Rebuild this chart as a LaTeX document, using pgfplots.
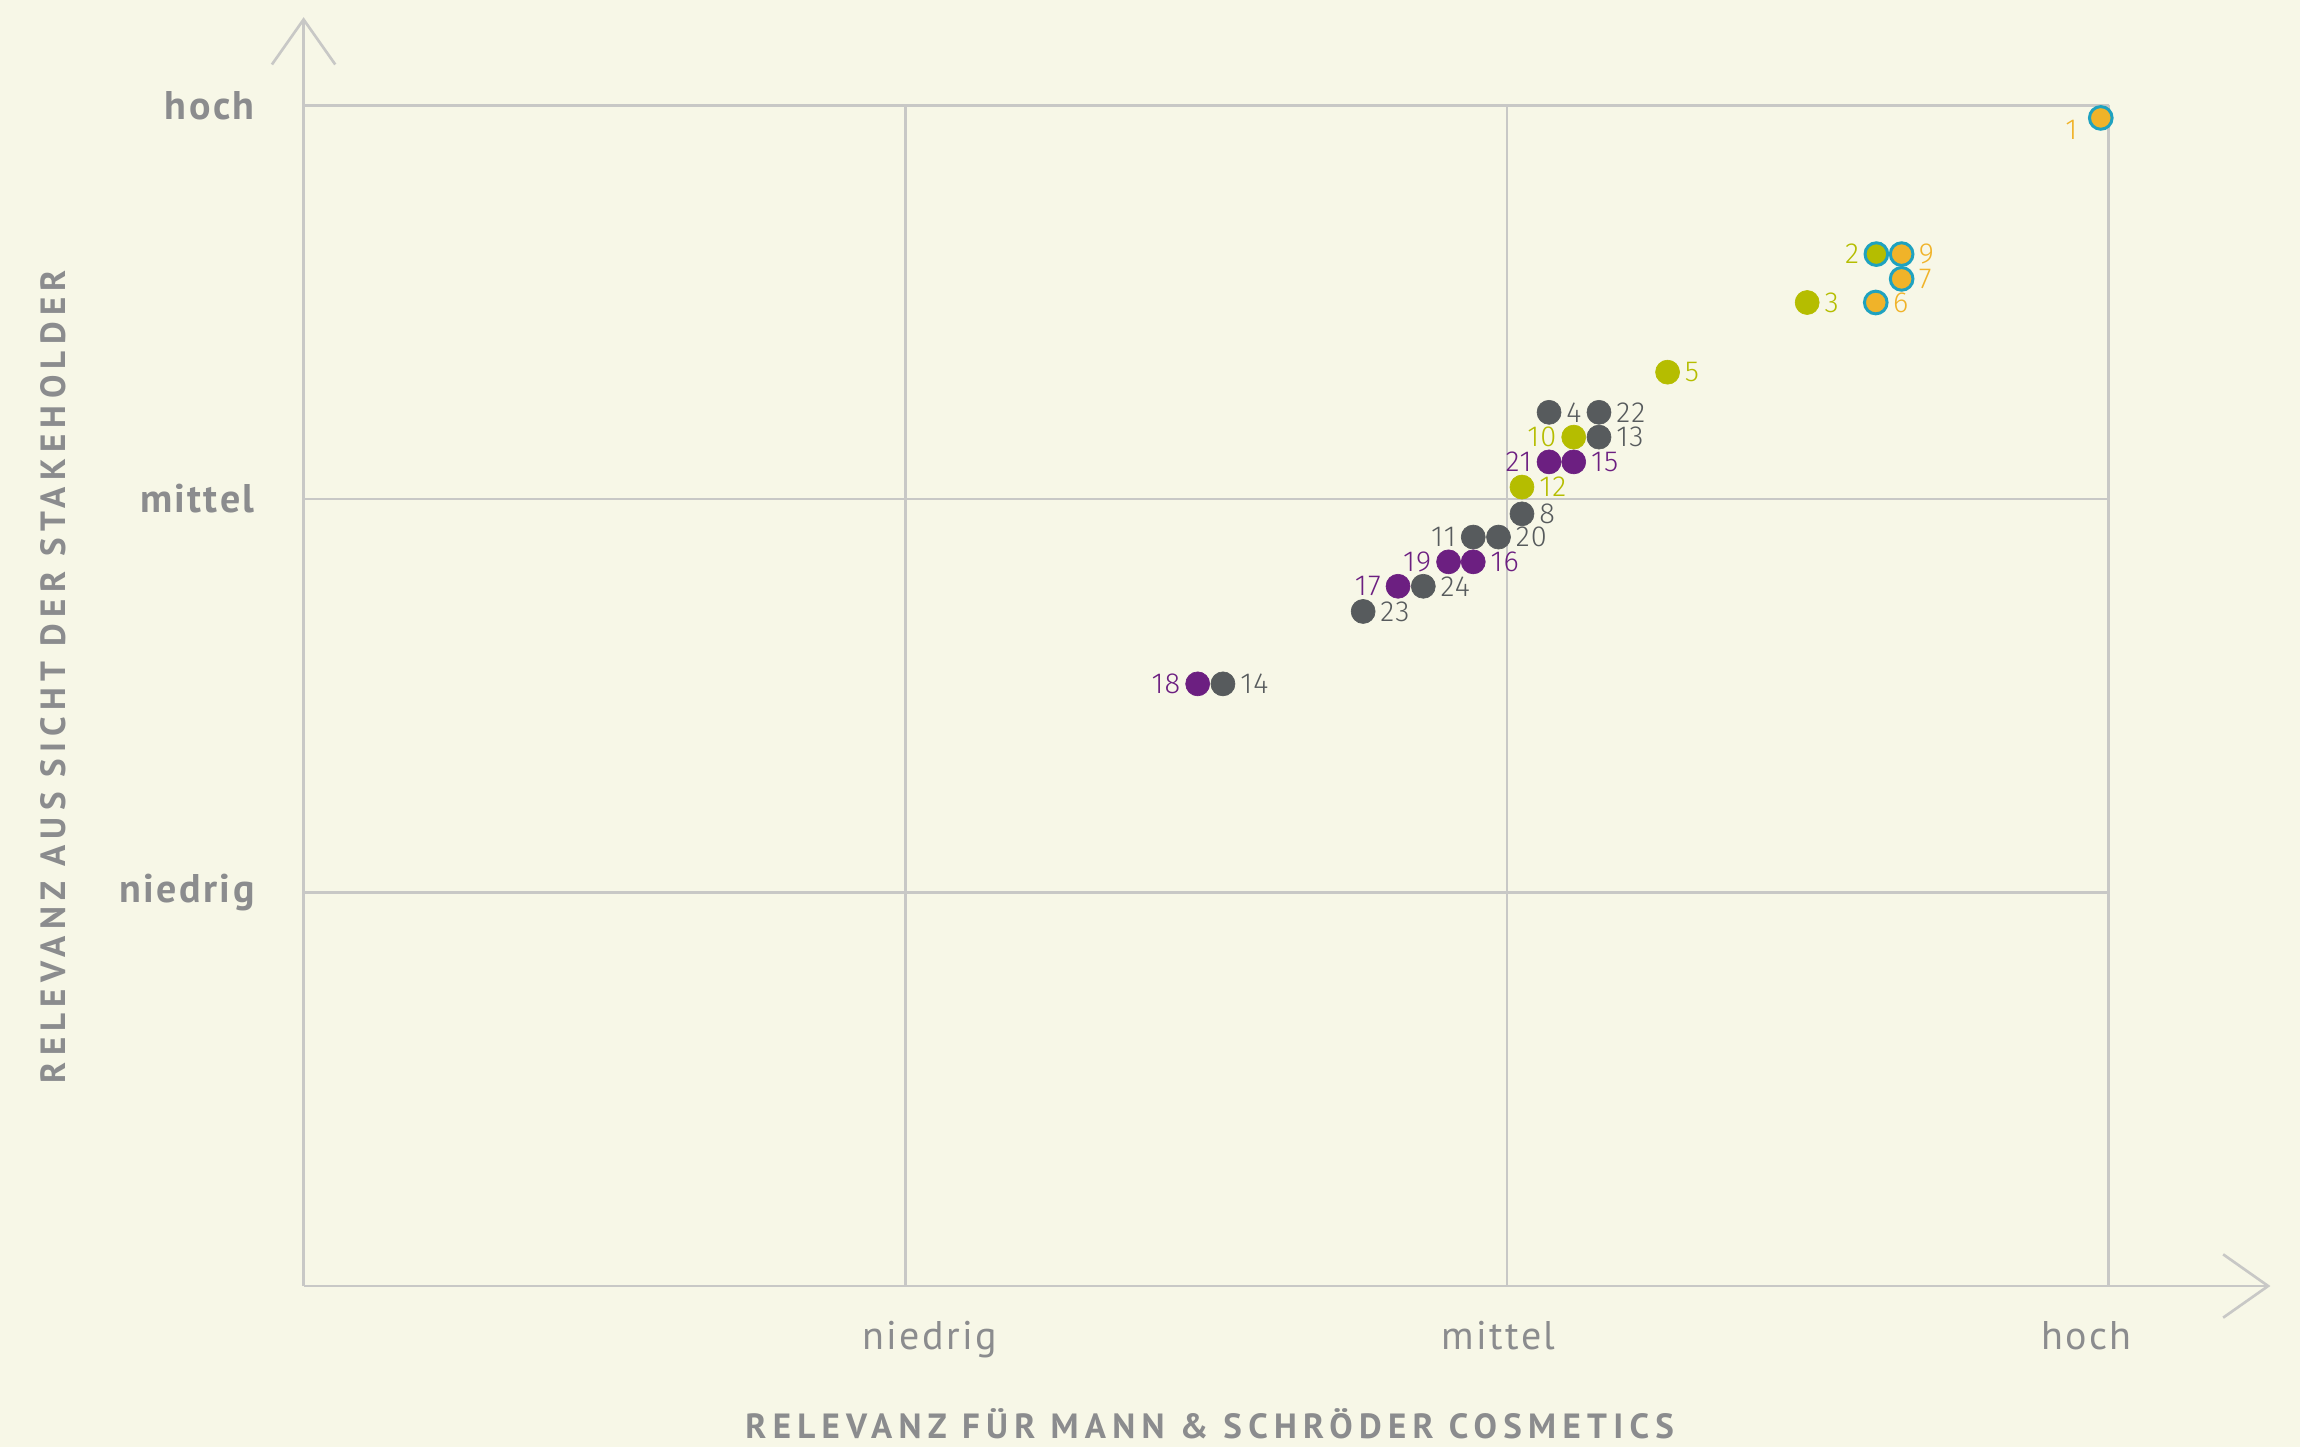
\documentclass[border=0pt]{standalone}
\usepackage{pgfplots}
\pgfplotsset{compat=1.18}
\usetikzlibrary{arrows.meta}
\usepackage{fontspec}
\setmainfont{PT Sans}
\newfontfamily\titlefont[LetterSpace=18]{PT Sans}
\newfontfamily\tickfont[LetterSpace=6]{PT Sans}
\newfontfamily\numfont[LetterSpace=4]{Fira Sans Light}
\definecolor{bgc}{HTML}{F7F7E7}
\definecolor{gridc}{HTML}{C8C8C6}
\definecolor{txtc}{HTML}{8B8C8E}
\definecolor{orc}{HTML}{F0B329}
\definecolor{tealc}{HTML}{1FA2C0}
\definecolor{grc}{HTML}{B5BD00}
\definecolor{dkc}{HTML}{575B5D}
\definecolor{puc}{HTML}{6C1F81}
\newcommand{\nf}{\numfont\fontsize{8.7}{10}\selectfont}
\newcommand{\lR}[4]{\node[anchor=west,inner sep=0pt,text=#4,font=\nf] at ([xshift=5pt]axis cs:#1,#2) {#3};}
\newcommand{\lL}[4]{\node[anchor=east,inner sep=0pt,text=#4,font=\nf] at ([xshift=-5pt]axis cs:#1,#2) {#3};}
\begin{document}
\begin{tikzpicture}
\fill[bgc] (-91.08pt,-48.3pt) rectangle (598.92pt,385.8pt);
\begin{axis}[
  scale only axis,
  width=541.5pt, height=354.2pt,
  xmin=0, xmax=3, ymin=0, ymax=3,
  clip=false,
  axis line style={draw=none},
  major tick length=0pt,
  xtick={1,2,3}, ytick={1,2,3},
  xticklabels={}, 
  yticklabels={niedrig,mittel,hoch},
  grid=major,
  grid style={gridc, line width=0.8pt},
  extra x ticks={1.04,1.986,2.963},
  extra x tick labels={niedrig,mittel,hoch},
  extra x tick style={grid=none},
  xticklabel style={anchor=base, inner sep=0pt, yshift=-18.9pt, text=txtc, font=\tickfont\fontsize{12}{14}\selectfont},
  yticklabel style={anchor=east, inner sep=0pt, xshift=-14.5pt, text=txtc, font=\tickfont\bfseries\fontsize{12}{14}\selectfont},
]
\draw[gridc, line width=0.8pt, -{Straight Barb[length=13.5pt,width=19pt]}] (axis cs:0,0) -- (axis cs:3.269,0);
\draw[gridc, line width=0.8pt, -{Straight Barb[length=13.5pt,width=19pt]}] (axis cs:0,0) -- (axis cs:0,3.224);

% dark grey
\addplot[only marks, color=dkc, mark=*, mark size=3.6pt, mark options={draw=dkc, fill=dkc, line width=0.2pt}] coordinates {
 (2.070,2.220) (2.153,2.220) (2.153,2.157) (2.025,1.962) (1.944,1.903)
 (1.986,1.903) (1.861,1.778) (1.761,1.714) (1.528,1.530)};
% purple
\addplot[only marks, color=puc, mark=*, mark size=3.6pt, mark options={draw=puc, fill=puc, line width=0.2pt}] coordinates {
 (2.070,2.094) (2.111,2.094) (1.903,1.840) (1.944,1.840) (1.819,1.778) (1.486,1.530)};
% green plain
\addplot[only marks, color=grc, mark=*, mark size=3.6pt, mark options={draw=grc, fill=grc, line width=0.2pt}] coordinates {
 (2.499,2.499) (2.267,2.322) (2.111,2.157) (2.025,2.030)};
% green with teal ring
\addplot[only marks, color=tealc, mark=*, mark size=3.4pt, mark options={draw=tealc, line width=0.9pt, fill=grc}] coordinates {
 (2.614,2.622)};
% orange with teal ring
\addplot[only marks, color=tealc, mark=*, mark size=3.4pt, mark options={draw=tealc, line width=0.9pt, fill=orc}] coordinates {
 (2.987,2.968) (2.656,2.622) (2.656,2.559) (2.613,2.499)};

\node[anchor=east,inner sep=0pt,text=orc,font=\nf] at ([xshift=-6.8pt,yshift=-3.6pt]axis cs:2.987,2.968) {1};
\lL{2.614}{2.622}{2}{grc}
\lR{2.656}{2.622}{9}{orc}
\lR{2.656}{2.559}{7}{orc}
\lR{2.499}{2.499}{3}{grc}
\lR{2.613}{2.499}{6}{orc}
\lR{2.267}{2.322}{5}{grc}
\lR{2.070}{2.220}{4}{dkc}
\lR{2.153}{2.220}{22}{dkc}
\lL{2.111}{2.157}{10}{grc}
\lR{2.153}{2.157}{13}{dkc}
\lL{2.070}{2.094}{21}{puc}
\lR{2.111}{2.094}{15}{puc}
\lR{2.025}{2.030}{12}{grc}
\lR{2.025}{1.962}{8}{dkc}
\lL{1.944}{1.903}{11}{dkc}
\lR{1.986}{1.903}{20}{dkc}
\lL{1.903}{1.840}{19}{puc}
\lR{1.944}{1.840}{16}{puc}
\lL{1.819}{1.778}{17}{puc}
\lR{1.861}{1.778}{24}{dkc}
\lR{1.761}{1.714}{23}{dkc}
\lL{1.486}{1.530}{18}{puc}
\lR{1.528}{1.530}{14}{dkc}

\node[anchor=base, inner sep=0pt, text=txtc, font=\titlefont\bfseries\fontsize{10.5}{12}\selectfont] at ([yshift=-45.8pt]axis description cs:0.502,0) {RELEVANZ FÜR MANN \& SCHRÖDER COSMETICS};
\node[rotate=90, anchor=base, inner sep=0pt, text=txtc, font=\titlefont\bfseries\fontsize{10.5}{12}\selectfont] at ([xshift=-71.3pt]axis description cs:0,0.516) {RELEVANZ AUS SICHT DER STAKEHOLDER};
\end{axis}
\pgfresetboundingbox
\useasboundingbox (-91.08pt,-48.3pt) rectangle (598.92pt,385.8pt);
\end{tikzpicture}
\end{document}
